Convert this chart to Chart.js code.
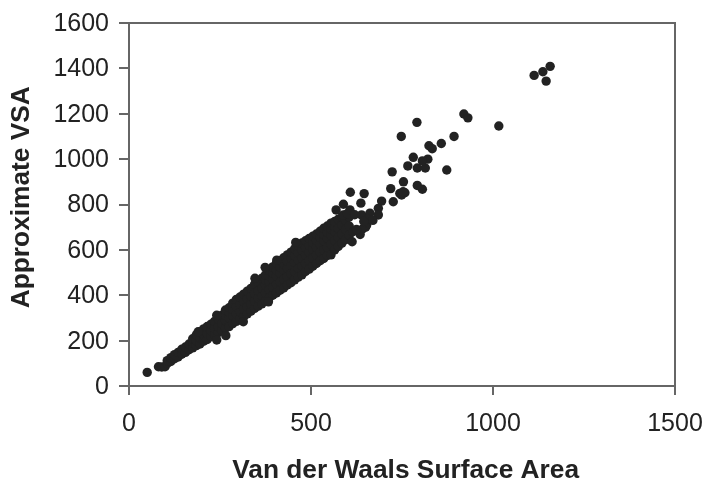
<!DOCTYPE html>
<html>
<head>
<meta charset="utf-8">
<title>Approximate VSA</title>
<script src="https://cdn.jsdelivr.net/npm/chart.js@4"></script>
<style>
  html, body { margin: 0; padding: 0; background: #fff; }
  canvas { display: block; }
</style>
</head>
<body>
<canvas id="vsaChart" width="705" height="479"></canvas>
<script>
// Values
const xTicks = [0, 500, 1000, 1500];
const yTicks = [0, 200, 400, 600, 800, 1000, 1200, 1400, 1600];

// Dense band: one x for each list of y values
const bandX = [50, 81, 90, 99, 105, 115, 125, 135, 145, 155, 165, 175, 185, 195, 205, 215, 225, 235, 245, 255,
    265, 275, 285, 295, 305, 315, 325, 335, 345, 355, 365, 375, 385, 395, 405, 415, 425, 435, 445, 455,
    465, 475, 485, 495, 505, 515, 525, 535, 545, 555, 565, 575, 585, 595, 605, 615];
const bandY = [[60], [85], [84], [85], [100, 112], [108, 125], [120, 138], [128, 148], [140, 162], [148, 172],
    [160, 185], [168, 190, 208], [178, 200, 226], [185, 212, 238], [198, 225, 252], [205, 232, 262],
    [218, 245, 272], [225, 255, 285], [235, 262, 296], [245, 275, 312], [255, 288, 312, 335], [262, 300, 325, 345],
    [275, 310, 338, 365], [285, 318, 350, 382], [295, 328, 360, 392], [305, 340, 372, 405], [318, 350, 385, 418],
    [330, 362, 395, 430], [342, 375, 408, 448], [352, 388, 420, 460], [362, 398, 432, 475], [375, 410, 445, 468, 490],
    [388, 425, 460, 485, 508], [400, 435, 470, 498, 525], [410, 448, 485, 512, 542], [422, 460, 498, 525, 552], [432, 470, 510, 538, 565],
    [445, 482, 520, 550, 578], [455, 495, 532, 562, 590], [468, 505, 545, 575, 605], [480, 518, 555, 588, 618], [490, 530, 565, 600, 630],
    [505, 540, 578, 610, 640], [515, 552, 590, 620, 650], [528, 565, 602, 632, 660], [540, 578, 612, 642, 670], [552, 590, 625, 655, 682],
    [562, 600, 640, 668, 695], [575, 612, 650, 678, 705], [578, 625, 665, 692, 718], [600, 640, 680, 703, 725], [615, 655, 695, 735],
    [630, 670, 710, 745], [645, 690, 730], [665, 705, 745], [680]];

// Separate points and small bumps along the band
const looseX = [241, 266, 241, 190, 314, 383, 374, 346, 406, 458,
    608, 646, 637, 694, 754, 719, 744, 758, 726, 723, 589, 569, 607, 589, 639, 685, 685, 662, 653, 635, 613, 600,
    620, 655, 670, 650, 640, 625, 645,
    792, 806, 749, 753, 766, 792, 814, 873, 781, 821, 806, 824, 833, 858, 893, 748, 791, 920, 931, 1016, 1113, 1137, 1157, 1146];
const looseY = [203, 222, 312, 239, 283, 371, 523, 475, 555, 633,
    854, 848, 806, 815, 900, 870, 849, 852, 812, 944, 801, 776, 776, 754, 754, 783, 754, 762, 710, 668, 636, 760,
    755, 735, 730, 700, 690, 690, 725,
    884, 867, 842, 856, 970, 961, 961, 952, 1008, 1000, 992, 1059, 1046, 1069, 1100, 1100, 1162, 1199, 1182, 1146, 1369, 1385, 1409, 1344];

const points = [];
bandX.forEach((x, i) => bandY[i].forEach(y => points.push({ x: x, y: y })));
looseX.forEach((x, i) => points.push({ x: x, y: looseY[i] }));

const inkColor = '#222222';
const axisColor = '#666666';
const tickFont = { family: '"Liberation Sans", Arial, sans-serif', size: 25 };
const titleFont = { family: '"Liberation Sans", Arial, sans-serif', size: 26.3, weight: 'bold' };

// Grey frame on the top and right sides of the plot
const frame = {
    id: 'frame',
    beforeDatasetsDraw(chart) {
        const a = chart.chartArea, c = chart.ctx;
        c.save();
        c.strokeStyle = axisColor;
        c.lineWidth = 2;
        c.beginPath();
        c.moveTo(a.left, a.top);
        c.lineTo(a.right, a.top);
        c.lineTo(a.right, a.bottom);
        c.stroke();
        c.restore();
    }
};

new Chart(document.getElementById('vsaChart'), {
    type: 'scatter',
    data: {
        datasets: [{
            data: points,
            backgroundColor: inkColor,
            borderWidth: 0,
            pointRadius: 4.7
        }]
    },
    plugins: [frame],
    options: {
        responsive: false,
        animation: false,
        layout: { padding: { top: 23, right: 30 } },
        plugins: { legend: { display: false }, tooltip: { enabled: false } },
        scales: {
            x: {
                min: 0,
                max: 1500,
                afterBuildTicks: s => { s.ticks = xTicks.map(v => ({ value: v })); },
                afterFit: s => { s.height = 93; s.paddingRight = 0; s.paddingLeft = 0; },
                border: { color: axisColor, width: 2 },
                grid: { display: true, drawOnChartArea: false, color: axisColor, lineWidth: 2, tickLength: 9 },
                ticks: { color: inkColor, font: tickFont, padding: 14, maxRotation: 0, callback: v => String(v) },
                // leading spaces nudge the centred titles to where the reference has them
                title: { display: true, text: ' Van der Waals Surface Area', color: inkColor, font: titleFont, padding: { top: 0, bottom: -8 } }
            },
            y: {
                min: 0,
                max: 1600,
                afterBuildTicks: s => { s.ticks = yTicks.map(v => ({ value: v })); },
                afterFit: s => { s.width = 129; s.paddingTop = 0; s.paddingBottom = 0; },
                border: { color: axisColor, width: 2 },
                grid: { display: true, drawOnChartArea: false, color: axisColor, lineWidth: 2, tickLength: 10 },
                ticks: { color: inkColor, font: tickFont, padding: 10, labelOffset: 1, callback: v => String(v) },
                title: { display: true, text: '  Approximate VSA', color: inkColor, font: titleFont, padding: { top: 6, bottom: 0 } }
            }
        }
    }
});
</script>
</body>
</html>
